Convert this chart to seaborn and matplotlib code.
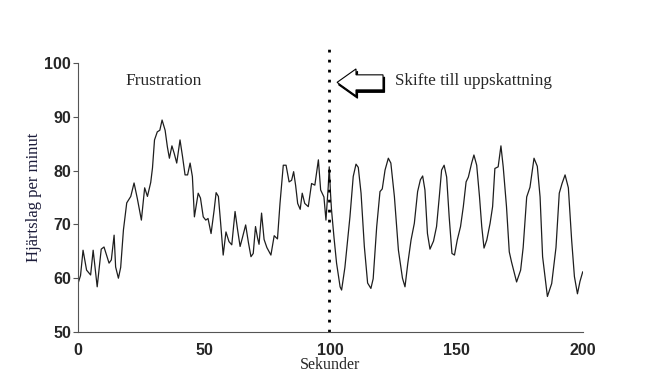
import matplotlib
matplotlib.use("Agg")
import matplotlib.pyplot as plt
import seaborn as sns
import pandas as pd
from matplotlib.patches import FancyArrow

seconds = [0, 1, 2, 3.4, 5, 6, 7.6, 9.2, 10.3, 12.3, 13.2, 14.3, 14.9, 16.0, 16.9, 18.0, 19.3, 20.9,
           22.2, 23.5, 25.1, 26.4, 27.5, 28.8, 29.5, 30.3, 31.4, 32.4, 33.3, 34.5, 35.4, 36.2, 37.2,
           38.1, 39.1, 40.4, 41.4, 42.4, 43.4, 44.4, 45.3, 46.1, 47.6, 48.5, 49.6, 50.6, 51.5, 52.7,
           53.9, 54.7, 55.6, 56.5, 57.5, 58.6, 59.8, 60.9, 62.2, 63.2, 64.2, 65.1, 66.4, 67.5, 68.5,
           69.4, 70.3, 71.1, 71.7, 72.7, 73.7, 74.8, 76.4, 77.7, 79.0, 80.0, 80.7, 81.3, 82.4, 83.6,
           84.6, 85.4, 86.2, 87.0, 88.0, 88.8, 89.8, 91.2, 92.5, 93.8, 95.2, 96.1, 97.4, 98.2, 99.1,
           99.5, 100.0, 100.4, 101.4, 102.4, 103.8, 104.4, 105.7, 107.7, 109.0, 110.1, 111.0, 112.1,
           113.4, 114.7, 116.0, 116.9, 118.3, 119.6, 120.5, 121.6, 122.9, 123.9, 125.3, 126.9, 128.5,
           129.5, 130.6, 131.9, 133.2, 134.5, 135.6, 136.5, 137.4, 138.4, 139.4, 140.8, 142.0, 143.1,
           144.0, 145.0, 146.0, 147.0, 148.1, 149.1, 150.2, 151.5, 152.6, 153.7, 154.6, 155.9, 156.8,
           157.9, 159.0, 159.9, 160.8, 161.9, 163.2, 164.2, 165.1, 166.4, 167.5, 168.4, 169.7, 170.8,
           171.7, 173.7, 175.3, 176.3, 177.7, 179.0, 180.6, 181.9, 183.0, 184.0, 185.9, 187.6, 189.3,
           190.6, 191.7, 192.9, 194.2, 195.5, 196.6, 197.8, 198.8, 199.9, 200.8]
heart_rate = [59.0, 60.5, 65.2, 61.5, 60.6, 65.2, 58.4, 65.4, 65.8, 62.8, 63.4, 68.0, 62.1, 60.0, 62.0,
              69.0, 74.0, 75.2, 77.7, 74.8, 70.8, 76.8, 75.2, 77.8, 80.5, 85.7, 87.2, 87.5, 89.4, 87.5,
              84.4, 82.3, 84.6, 83.2, 81.4, 85.7, 82.6, 79.2, 79.2, 81.4, 78.9, 71.4, 75.8, 74.9, 71.4,
              70.8, 71.1, 68.3, 72.6, 75.9, 75.2, 70.2, 64.3, 68.6, 66.8, 66.2, 72.4, 69.0, 65.9, 67.5,
              69.9, 66.6, 64.0, 64.6, 69.6, 67.5, 66.3, 72.1, 67.2, 65.7, 64.3, 67.9, 67.3, 73.9, 77.6,
              81.0, 81.0, 77.9, 78.2, 79.8, 77.2, 73.9, 72.8, 75.8, 73.9, 73.3, 77.6, 77.3, 82.0, 76.4,
              75.1, 70.8, 77.0, 80.7, 75.8, 72.7, 67.5, 62.8, 58.4, 57.8, 62.0, 71.4, 78.9, 81.2, 80.6,
              75.8, 65.9, 59.1, 58.1, 59.9, 69.6, 76.1, 76.6, 80.1, 82.3, 81.4, 75.2, 65.2, 60.0, 58.4,
              62.7, 67.1, 70.2, 76.1, 78.3, 79.0, 76.4, 68.3, 65.4, 66.9, 69.6, 75.2, 80.1, 81.0, 78.8,
              71.4, 64.6, 64.3, 67.1, 69.6, 73.3, 77.9, 78.8, 81.4, 82.9, 81.0, 75.2, 69.6, 65.6, 67.1,
              70.2, 73.3, 80.4, 80.7, 84.6, 80.7, 73.3, 64.9, 63.0, 59.3, 61.5, 65.7, 75.1, 76.9, 82.3,
              80.8, 75.1, 64.0, 56.6, 59.0, 65.7, 75.8, 77.6, 79.2, 76.8, 67.1, 60.3, 57.1, 59.4, 61.2,
              60.9]

x_ticks = [0, 50, 100, 150, 200]
y_ticks = [50, 60, 70, 80, 90, 100]
shift_time = 99.4
label_left = "Frustration"
label_right = "Skifte till uppskattning"

sns.set_style("ticks")
plt.rcParams["font.family"] = ["Liberation Sans", "DejaVu Sans"]

fig = plt.figure(figsize=(6.48, 3.82), dpi=100)
ax = fig.add_axes([78 / 648, 50 / 382, (583 - 78) / 648, (332 - 63) / 382])

df = pd.DataFrame({"Sekunder": seconds, "Hjärtslag": heart_rate})
sns.lineplot(data=df, x="Sekunder", y="Hjärtslag", ax=ax, color="#1e1e1e", linewidth=0.9)

ax.set_xlim(0, 200)
ax.set_ylim(50, 100)
ax.set_xticks(x_ticks)
ax.set_yticks(y_ticks)
ax.tick_params(axis="both", labelsize=11.5, length=3.5, width=0.8, color="#555555", pad=1.5)
ax.tick_params(axis="x", length=0, pad=8)
for lab in ax.get_xticklabels() + ax.get_yticklabels():
    lab.set_fontweight("bold")
sns.despine(ax=ax)
for s in ["left", "bottom"]:
    ax.spines[s].set_linewidth(0.8)
    ax.spines[s].set_color("#555555")

serif = ["Liberation Serif", "DejaVu Serif"]
ax.set_xlabel("Sekunder", family=serif, fontsize=11.5, labelpad=-1)
ax.set_ylabel("Hjärtslag per minut", family=serif, fontsize=12, color="#1c1c3a", labelpad=2)

ax.plot([shift_time, shift_time], [50, 102.8], color="black", linewidth=2.0,
        linestyle=(0, (1, 2.6)), clip_on=False)

ax.text(18.6, 96.6, label_left, family=serif, fontsize=12.5, va="center", ha="left")
ax.text(125.5, 96.6, label_right, family=serif, fontsize=12.3, va="center", ha="left")

# block arrow with shadow
for dx, dy, fc in [(0.6, -0.45, "black"), (0, 0, "white")]:
    arr = FancyArrow(120.8 + dx, 96.4 + dy, -18.2, 0, width=2.8, head_width=5.0,
                     head_length=7.5, length_includes_head=True, fc=fc,
                     ec="black", linewidth=0.8, clip_on=False)
    ax.add_patch(arr)

fig.savefig("out.png", dpi=100)
